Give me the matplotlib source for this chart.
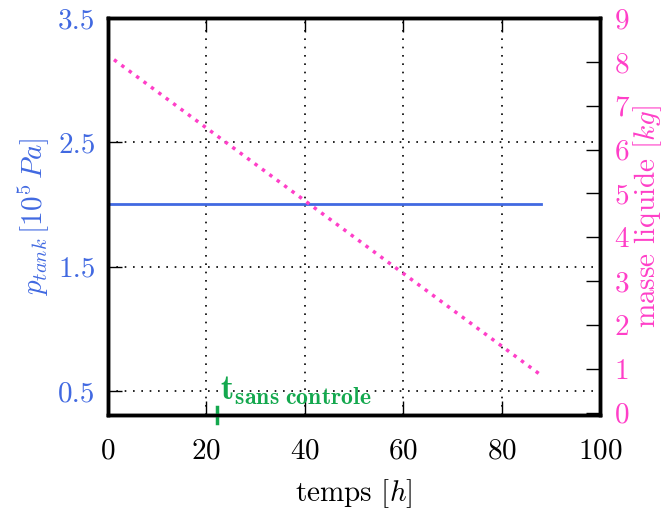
import matplotlib
matplotlib.use('Agg')
import matplotlib.pyplot as plt
import numpy as np

plt.rcParams['font.family'] = 'serif'
plt.rcParams['font.serif'] = ['cmr10']
plt.rcParams['mathtext.fontset'] = 'cm'
plt.rcParams['axes.formatter.use_mathtext'] = True
plt.rcParams['font.size'] = 21

# data
temps = [0, 88]
p_tank = [2.0, 2.0]
masse = [8.15, 0.86]
t_sans_controle = 22.2

xticks = [0, 20, 40, 60, 80, 100]
yticks_p = [0.5, 1.5, 2.5, 3.5]
yticks_m = [0, 1, 2, 3, 4, 5, 6, 7, 8, 9]

blue = '#4169e1'
pink = '#ff3fc8'
green = '#14a84e'

fig = plt.figure(figsize=(6.65, 5.13), dpi=100)
ax = fig.add_axes([0.1624, 0.191, 0.7398, 0.774])
ax.plot(temps, p_tank, color=blue, lw=2)
ax.set_xlim(0, 100)
ax.set_ylim(0.306, 3.5)
ax.set_xticks(xticks)
ax.set_yticks(yticks_p)
ax.set_yticklabels(['0.5', '1.5', '2.5', '3.5'])
ax.grid(True, color='black', linestyle=(0, (1, 4)), lw=1.2)
ax.tick_params(direction='in', length=10, width=1, top=True, right=False)
ax.tick_params(axis='y', color='black', labelcolor=blue, pad=9)
ax.tick_params(axis='x', pad=17)
ax.set_xlabel(r'temps $[h]$', labelpad=9)
ax.set_ylabel(r'$p_{tank}\,[10^5\,Pa]$', color=blue, labelpad=5)
for s in ax.spines.values():
    s.set_linewidth(2.5)

# marker for t sans controle
ax.plot([t_sans_controle, t_sans_controle], [0.24, 0.37], color=green, lw=2.5,
        clip_on=False, zorder=5)
ax.text(t_sans_controle + 0.6, 0.37, r'$\mathbf{t_{sans\ controle}}$', color=green,
        fontsize=24.5, ha='left', va='bottom')

ax2 = ax.twinx()
ax2.plot(temps, masse, color=pink, linestyle=(0.5, (1, 1.65)), lw=2.5)
ax2.set_ylim(-0.05, 9)
ax2.set_yticks(yticks_m)
ax2.tick_params(direction='in', length=10, width=1, color='black', labelcolor=pink, pad=10)
ax2.set_ylabel(r'masse liquide $[kg]$', color=pink, labelpad=1)
for s in ax2.spines.values():
    s.set_linewidth(2.5)

fig.savefig('out.png', dpi=100)
